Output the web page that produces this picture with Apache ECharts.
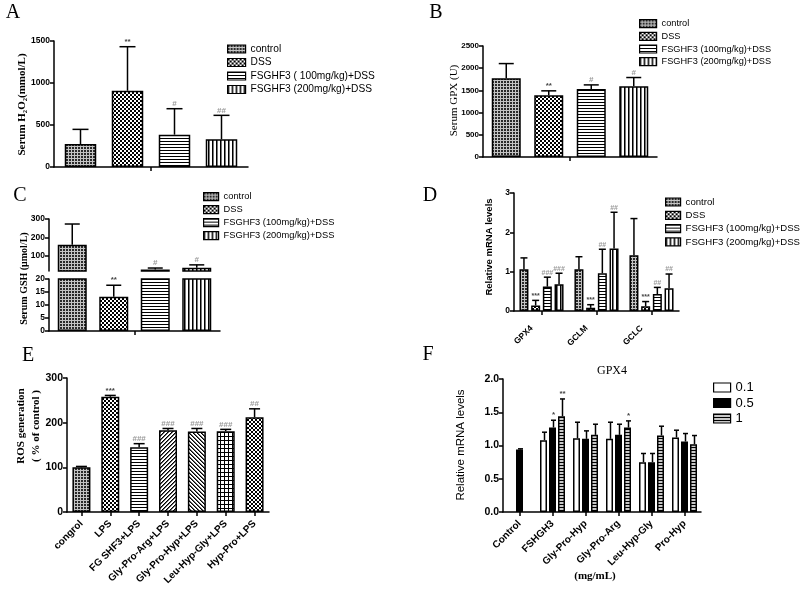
<!DOCTYPE html>
<html><head><meta charset="utf-8">
<script src="https://cdn.jsdelivr.net/npm/echarts@6/dist/echarts.min.js"></script>
<style>html,body{margin:0;padding:0;background:#fff}#c{width:803px;height:593px}</style>
</head><body><div id="c"></div>
<script>
// ---------------- DATA ----------------
// Panel A: Serum H2O2
const A_names = ['control', 'DSS', 'FSGHF3 ( 100mg/kg)+DSS', 'FSGHF3 (200mg/kg)+DSS'];
const A_mean = [274, 908, 385, 330];
const A_sd = [174, 524, 309, 285];
const A_sig = ['', '**', '#', '##'];

// Panel B: Serum GPX
const BCD_names = ['control', 'DSS', 'FSGHF3 (100mg/kg)+DSS', 'FSGHF3 (200mg/kg)+DSS'];
const B_mean = [1774, 1393, 1534, 1595];
const B_sd = [330, 97, 90, 195];
const B_sig = ['', '**', '#', '#'];

// Panel C: Serum GSH (broken axis)
const C_mean = [161, 13.2, 28, 38];
const C_sd = [112, 4.4, 8, 15];
const C_sig = ['', '**', '#', '#'];
const C_upperTicks = [100, 200, 300];

// Panel D: relative mRNA
const D_genes = ['GPX4', 'GCLM', 'GCLC'];
const D_control = [1.06, 1.06, 1.42];
const D_controlSd = [0.29, 0.32, 0.93];
const D_dss = [0.14, 0.08, 0.12];
const D_dssSd = [0.13, 0.08, 0.12];
const D_f100 = [0.62, 0.96, 0.43];
const D_f100Sd = [0.24, 0.61, 0.17];
const D_f200 = [0.68, 1.59, 0.58];
const D_f200Sd = [0.28, 0.92, 0.36];
const D_sig = [['', '', ''], ['***', '***', '***'], ['###', '##', '##'], ['###', '##', '##']];

// Panel E: ROS generation
const E_cats = ['congrol', 'LPS', 'FG SHF3+LPS', 'Gly-Pro-Arg+LPS', 'Gly-Pro-Hyp+LPS', 'Leu-Hyp-Gly+LPS', 'Hyp-Pro+LPS'];
const E_mean = [100, 258, 145, 183, 180, 181, 212];
const E_sd = [2, 3, 8, 4, 7, 4, 19];
const E_sig = ['', '***', '###', '###', '###', '###', '##'];

// Panel F: GPX4
const F_cats = ['Control', 'FSHGH3', 'Gly-Pro-Hyp', 'Gly-Pro-Arg', 'Leu-Hyp-Gly', 'Pro-Hyp'];
const F_names = ['0.1', '0.5', '1'];
const F_d01 = [null, 1.08, 1.11, 1.10, 0.75, 1.12];
const F_d01Sd = [null, 0.12, 0.24, 0.25, 0.13, 0.11];
const F_d05 = [0.94, 1.27, 1.10, 1.16, 0.75, 1.06];
const F_d05Sd = [0.01, 0.11, 0.12, 0.16, 0.13, 0.12];
const F_d1 = [null, 1.44, 1.16, 1.27, 1.15, 1.02];
const F_d1Sd = [null, 0.26, 0.16, 0.10, 0.14, 0.13];
const F_sig = [['', '', '', '', '', ''], ['', '*', '', '', '', ''], ['', '**', '', '*', '', '']];

// ---------------- STYLE HELPERS ----------------
const SANS = 'Liberation Sans', SERIF = 'Liberation Serif';
function mk(w, h, bg, draw) {
  const c = document.createElement('canvas'); c.width = w; c.height = h;
  const g = c.getContext('2d'); g.fillStyle = bg; g.fillRect(0, 0, w, h); g.fillStyle = '#000';
  draw(g); return { image: c, repeat: 'repeat' };
}
const PAT = {
  dots: mk(3, 3, '#c4c4c4', g => { g.fillStyle = '#2a2a2a'; g.fillRect(0, 0, 2, 2); }),
  checker: mk(4, 4, '#fff', g => { g.fillRect(0, 0, 2, 2); g.fillRect(2, 2, 2, 2); }),
  hlines: mk(3, 3, '#fff', g => { g.fillRect(0, 0, 3, 1); }),
  vlines: mk(4, 4, '#fff', g => { g.fillRect(0, 0, 1, 4); g.fillStyle = '#777'; g.fillRect(1, 0, 1, 4); }),
  fwd: mk(4, 4, '#fff', g => { for (let i = 0; i < 4; i++) { g.fillRect(3 - i, i, 1, 1); g.fillStyle = '#666'; g.fillRect((4 - i) % 4, i, 1, 1); g.fillStyle = '#000'; } }),
  back: mk(4, 4, '#fff', g => { for (let i = 0; i < 4; i++) { g.fillRect(i, i, 1, 1); g.fillStyle = '#666'; g.fillRect((i + 1) % 4, i, 1, 1); g.fillStyle = '#000'; } }),
  grid: mk(4, 4, '#fff', g => { g.fillRect(0, 0, 4, 1); g.fillRect(0, 0, 1, 4); }),
  cross: mk(4, 4, '#fff', g => { for (let i = 0; i < 4; i++) { g.fillRect(i, i, 1, 1); g.fillRect(3 - i, i, 1, 1); } }),
  grayStripe: mk(3, 3, '#c8c8c8', g => { g.fillRect(0, 0, 3, 1); })
};
const groupPats = [PAT.dots, PAT.checker, PAT.hlines, PAT.vlines];
const E_pats = [PAT.dots, PAT.checker, PAT.hlines, PAT.fwd, PAT.back, PAT.grid, PAT.cross];
const F_pats = ['#fff', '#000', PAT.grayStripe];

const LINE = { color: '#000', width: 1.5 };
function xCat(gi, data, opts) {
  return Object.assign({
    type: 'category', gridIndex: gi, data,
    axisLine: { show: true, onZero: false, lineStyle: LINE },
    axisTick: { show: true, alignWithLabel: true, length: 4, lineStyle: LINE },
    axisLabel: { show: false }, splitLine: { show: false }
  }, opts || {});
}
function yLabel(fs, extra) {
  return Object.assign({ color: '#000', fontSize: fs, fontWeight: 'bold', fontFamily: SANS, margin: 4, formatter: v => String(v) }, extra || {});
}
function yVal(gi, min, max, interval, fs, opts) {
  return Object.assign({
    type: 'value', gridIndex: gi, min, max, interval,
    axisLine: { show: true, lineStyle: LINE },
    axisTick: { show: true, length: 4, lineStyle: LINE },
    axisLabel: yLabel(fs),
    splitLine: { show: false }
  }, opts || {});
}
function centers(n, w, gap) {
  const total = n * w + (n - 1) * gap; const r = [];
  for (let i = 0; i < n; i++) r.push(-total / 2 + w / 2 + i * (w + gap));
  return r;
}
function errSeries(xi, yi, data, offsetFn, capW, sigFn, showFn, sigSize) {
  return {
    type: 'custom', xAxisIndex: xi, yAxisIndex: yi, z: 10, silent: true, clip: false, data,
    renderItem: (params, api) => {
      const ci = api.value(0), m = api.value(1), t = api.value(2), k = api.value(3);
      if (showFn && !showFn(m, t)) return null;
      const p0 = api.coord([ci, m]), p1 = api.coord([ci, t]);
      const x = p0[0] + offsetFn(k);
      const ch = [
        { type: 'line', shape: { x1: x, y1: p0[1], x2: x, y2: p1[1] }, style: { stroke: '#000', lineWidth: 1.5 } },
        { type: 'line', shape: { x1: x - capW / 2, y1: p1[1], x2: x + capW / 2, y2: p1[1] }, style: { stroke: '#000', lineWidth: 1.5 } }
      ];
      const s = sigFn(k, ci);
      if (s) ch.push({ type: 'text', x: x, y: p1[1] - 1, style: { text: s, align: 'center', verticalAlign: 'bottom', font: 'bold ' + (sigSize || 8) + 'px ' + SANS, fill: s[0] === '#' ? '#999' : '#444' } });
      return { type: 'group', children: ch };
    }
  };
}
const pct = (gap, w) => (gap / w * 100) + '%';
const barStyle = c => ({ color: c, borderColor: '#000', borderWidth: 1.5 });

const series = [];
// ---- Panel A (grid 0)
{
  const w = 31.5, gap = 15.5, cs = centers(4, w, gap);
  A_names.forEach((nm, i) => series.push({ type: 'bar', name: nm, xAxisIndex: 0, yAxisIndex: 0, data: [A_mean[i]], barWidth: w, barGap: pct(gap, w), itemStyle: barStyle(groupPats[i]) }));
  series.push(errSeries(0, 0, A_mean.map((m, i) => [0, m, m + A_sd[i], i]), k => cs[k], 16, k => A_sig[k]));
}
// ---- Panel B (grid 1)
{
  const w = 29, gap = 13.5, cs = centers(4, w, gap);
  BCD_names.forEach((nm, i) => series.push({ type: 'bar', name: nm, xAxisIndex: 1, yAxisIndex: 1, data: [B_mean[i]], barWidth: w, barGap: pct(gap, w), itemStyle: barStyle(groupPats[i]) }));
  series.push(errSeries(1, 1, B_mean.map((m, i) => [0, m, m + B_sd[i], i]), k => cs[k], 15, k => B_sig[k]));
}
// ---- Panel C (grids 2 upper, 3 lower)
{
  const w = 29, gap = 12.5, cs = centers(4, w, gap);
  [2, 3].forEach(gi => {
    BCD_names.forEach((nm, i) => series.push({ type: 'bar', name: nm, xAxisIndex: gi, yAxisIndex: gi, data: [C_mean[i]], barWidth: w, barGap: pct(gap, w), clip: true, itemStyle: barStyle(groupPats[i]) }));
  });
  const d = C_mean.map((m, i) => [0, m, m + C_sd[i], i]);
  series.push(errSeries(2, 2, d, k => cs[k], 15, k => C_sig[k], (m, t) => m > 20));
  series.push(errSeries(3, 3, d, k => cs[k], 15, k => C_sig[k], (m, t) => t <= 20));
}
// ---- Panel D (grid 4)
{
  const w = 9, gap = 2.7, cs = centers(4, w, gap);
  const vals = [D_control, D_dss, D_f100, D_f200], sds = [D_controlSd, D_dssSd, D_f100Sd, D_f200Sd];
  BCD_names.forEach((nm, s) => series.push({ type: 'bar', name: nm, xAxisIndex: 4, yAxisIndex: 4, data: vals[s], barWidth: w, barGap: pct(gap, w), itemStyle: barStyle(groupPats[s]) }));
  vals.forEach((v, s) => series.push(errSeries(4, 4, v.map((m, i) => [i, m, m + sds[s][i], i]), k => cs[s], 7, k => D_sig[s][k], null, 7)));
}
// ---- Panel E (grid 5)
{
  series.push({ type: 'bar', name: 'ROS', xAxisIndex: 5, yAxisIndex: 5, barWidth: 18,
    data: E_mean.map((v, i) => ({ value: v, itemStyle: { color: E_pats[i] } })), itemStyle: { borderColor: '#000', borderWidth: 1.5 } });
  series.push(errSeries(5, 5, E_mean.map((m, i) => [i, m, m + E_sd[i], i]), k => 0, 11, k => E_sig[k], null, 8));
}
// ---- Panel F (grid 6)
{
  const w = 7, gap = 2, cs = centers(3, w, gap);
  const vals = [F_d01, F_d05, F_d1], sds = [F_d01Sd, F_d05Sd, F_d1Sd];
  F_names.forEach((nm, s) => series.push({ type: 'bar', name: nm, xAxisIndex: 6, yAxisIndex: 6, data: vals[s].map(v => v == null ? '-' : v), barWidth: w, barGap: pct(gap, w), itemStyle: barStyle(F_pats[s]) }));
  vals.forEach((v, s) => {
    const d = []; v.forEach((m, i) => { if (m != null) d.push([i, m, m + sds[s][i], i]); });
    series.push(errSeries(6, 6, d, k => cs[s] + 1, 5, k => F_sig[s][k], null, 8));
  });
}

function legend(left, top, names, fs, iw, ih, gapText, gapItem) {
  return { show: true, orient: 'vertical', left, top, data: names, icon: 'rect', itemWidth: iw, itemHeight: ih,
    itemGap: gapItem, itemTextGap: gapText, selectedMode: false, padding: 0,
    itemStyle: { borderColor: '#000', borderWidth: 1.2 },
    textStyle: { fontSize: fs, fontFamily: SANS, color: '#000' } };
}
function vtext(x, y, text, font, lh) {
  return { type: 'text', x, y, rotation: Math.PI / 2, style: { text, font, align: 'center', verticalAlign: 'middle', fill: '#000', lineHeight: lh || undefined } };
}
function htext(x, y, text, font) {
  return { type: 'text', x, y, style: { text, font, align: 'center', verticalAlign: 'middle', fill: '#000' } };
}

const option = {
  animation: false,
  backgroundColor: '#fff',
  grid: [
    { left: 54, top: 41, width: 194, height: 126 },
    { left: 483, top: 46, width: 174, height: 111 },
    { left: 49, top: 219, width: 171, height: 52 },
    { left: 49, top: 279, width: 171, height: 52 },
    { left: 514, top: 193, width: 165, height: 118 },
    { left: 67, top: 378, width: 202, height: 134 },
    { left: 503, top: 379, width: 198, height: 133 }
  ],
  xAxis: [
    xCat(0, ['']),
    xCat(1, ['']),
    xCat(2, [''], { axisLine: { show: false }, axisTick: { show: false } }),
    xCat(3, ['']),
    xCat(4, D_genes, { axisLabel: { show: true, rotate: 45, fontSize: 8.5, fontWeight: 'bold', fontFamily: SANS, color: '#000', margin: 6, padding: [0, 14, 0, 0] } }),
    xCat(5, E_cats, { axisLabel: { show: true, rotate: 45, fontSize: 10, fontWeight: 'bold', fontFamily: SANS, color: '#000', margin: 10, interval: 0 } }),
    xCat(6, F_cats, { axisLabel: { show: true, rotate: 45, fontSize: 10, fontWeight: 'bold', fontFamily: SANS, color: '#000', margin: 10, interval: 0 } })
  ],
  yAxis: [
    yVal(0, 0, 1500, 500, 8.5),
    yVal(1, 0, 2500, 500, 8),
    yVal(2, 20, 300, null, 8.5, { axisLabel: yLabel(8.5, { customValues: C_upperTicks }), axisTick: { show: true, length: 4, lineStyle: LINE, customValues: C_upperTicks } }),
    yVal(3, 0, 20, 5, 8.5),
    yVal(4, 0, 3, 1, 8.5),
    yVal(5, 0, 300, 100, 10.5),
    yVal(6, 0, 2, 0.5, 10.5, { axisLabel: yLabel(10.5, { formatter: v => v.toFixed(1) }) })
  ],
  legend: [
    legend(227, 44, A_names, 10.2, 18, 8, 5, 3.5),
    legend(639, 19, BCD_names, 9.2, 17, 8, 3, 3.5),
    legend(203, 192, BCD_names, 9.3, 15, 8, 5, 3.8),
    legend(665, 197, BCD_names, 9.6, 15, 8, 4, 3.3),
    legend(713, 381, F_names, 13, 17, 9, 6, 2.5)
  ],
  graphic: [
    htext(13, 13, 'A', '20px ' + SERIF),
    htext(436, 13, 'B', '20px ' + SERIF),
    htext(20, 196, 'C', '20px ' + SERIF),
    htext(430, 196, 'D', '20px ' + SERIF),
    htext(28, 356, 'E', '20px ' + SERIF),
    htext(428, 355, 'F', '20px ' + SERIF),
    vtext(22.5, 104.5, 'Serum H₂O₂(mmol/L)', 'bold 11px ' + SERIF),
    vtext(454, 100.5, 'Serum GPX (U)', '11px ' + SERIF),
    vtext(24.5, 278.5, 'Serum GSH (μmol/L)', 'bold 10px ' + SERIF),
    vtext(489, 247, 'Relative mRNA levels', 'bold 9.5px ' + SANS),
    vtext(29, 426, 'ROS generation\n( % of control )', 'bold 11px ' + SERIF, 15),
    vtext(461, 445, 'Relative mRNA levels', '11.5px ' + SANS),
    htext(612, 370.5, 'GPX4', '12px ' + SERIF),
    htext(595, 576, '(mg/mL)', 'bold 11px ' + SERIF)
  ],
  series
};
const chart = echarts.init(document.getElementById('c'), null, { renderer: 'canvas' });
chart.setOption(option);
</script></body></html>
